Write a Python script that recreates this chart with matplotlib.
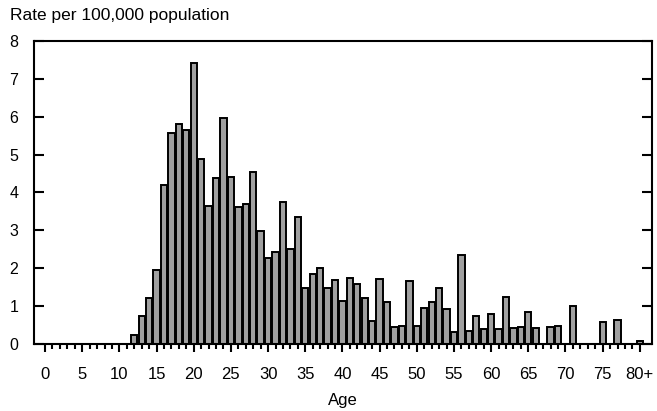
"""Rate per 100,000 population by single year of age."""
import matplotlib
matplotlib.use("Agg")
import matplotlib.pyplot as plt
import numpy as np

plt.rcParams["font.family"] = ["Liberation Sans", "DejaVu Sans"]

# Ages 0..80 (80 means 80+).
ages = list(range(81))
tick_labels = [str(a) for a in range(0, 80, 5)] + ["80+"]

# Rates, one per age.
rates = [
    0, 0, 0, 0, 0, 0, 0, 0, 0, 0,                 # 0-9
    0, 0, 0.24, 0.73, 1.22, 1.96, 4.19, 5.57, 5.80, 5.64,   # 10-19
    7.42, 4.87, 3.63, 4.38, 5.97, 4.42, 3.61, 3.69, 4.54, 2.97,  # 20-29
    2.27, 2.43, 3.74, 2.50, 3.34, 1.46, 1.84, 2.01, 1.48, 1.69,  # 30-39
    1.13, 1.73, 1.58, 1.20, 0.60, 1.72, 1.11, 0.45, 0.47, 1.65,  # 40-49
    0.47, 0.95, 1.10, 1.47, 0.91, 0.30, 2.35, 0.34, 0.74, 0.38,  # 50-59
    0.79, 0.40, 1.23, 0.41, 0.43, 0.85, 0.42, 0, 0.44, 0.47,     # 60-69
    0, 0.99, 0, 0, 0, 0.58, 0, 0.64, 0, 0,                       # 70-79
    0.06,                                                        # 80+
]

fig = plt.figure(figsize=(6.57, 4.11), dpi=100)
ax = fig.add_axes([0.051, 0.1637, 0.941, 0.7363])

ax.bar(ages, rates, width=0.85, color="#a0a0a0", edgecolor="black",
       linewidth=1.4, zorder=2)

ax.set_xlim(-1.55, 81.6)
ax.set_ylim(0, 8)

ax.set_xticks(range(0, 81, 5))
ax.set_xticklabels(tick_labels, fontsize=12)
ax.set_xticks(range(81), minor=True)
ax.tick_params(axis="x", which="major", direction="out", length=6,
               width=1.5, pad=11)
ax.tick_params(axis="x", which="minor", direction="out", length=3.3,
               width=1.5)

ax.set_yticks(range(9))
ax.tick_params(axis="y", which="major", direction="in", length=7.5,
               width=1.5, pad=11, right=True, labelsize=11.5)

for s in ax.spines.values():
    s.set_linewidth(1.5)

ax.set_xlabel("Age", fontsize=12, labelpad=8)
fig.text(10 / 657, 1 - 8 / 411, "Rate per 100,000 population",
         fontsize=12.5, ha="left", va="top")

fig.savefig("out.png", dpi=100)
